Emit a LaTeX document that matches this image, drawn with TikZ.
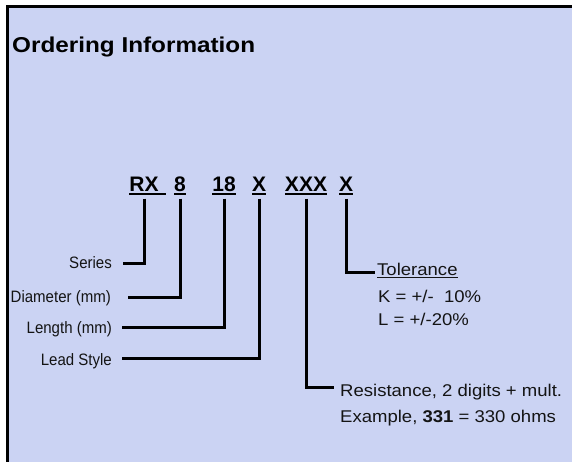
\documentclass[tikz,border=0pt]{standalone}
\usepackage{fontspec}
\setmainfont{Liberation Sans}
\newfontfamily\narrowfont[FakeStretch=0.91]{Liberation Sans}
\newfontfamily\widefont[FakeStretch=1.09]{Liberation Sans}
\newfontfamily\titlefont[FakeStretch=1.13]{Liberation Sans}
\usetikzlibrary{calc}
\definecolor{panel}{RGB}{203,211,243}
\definecolor{ink}{RGB}{20,20,20}
\newcommand\codeul[2][0pt]{\setbox0\hbox{#2}\rlap{\rule[-3.5pt]{\dimexpr\wd0+#1\relax}{2pt}}\box0}
\newcommand\thinul[1]{\setbox0\hbox{#1}\rlap{\rule[-2.5pt]{\wd0}{1pt}}\box0}
\tikzset{
  code/.style={anchor=base, inner xsep=0pt, inner ysep=3pt, font=\fontsize{21}{24}\selectfont\bfseries},
  lbl/.style={inner sep=0pt, font=\narrowfont\fontsize{16.5}{19}\selectfont, text=ink},
  rlbl/.style={inner sep=0pt, font=\widefont\fontsize{17}{20}\selectfont, text=ink},
  conn/.style={line width=3pt, black},
}
\begin{document}
\begin{tikzpicture}[x=1pt,y=-1pt]
\useasboundingbox (0,0) rectangle (572,462);
\fill[white] (0,0) rectangle (572,462);
\fill[black] (6,5) rectangle (572,462);
\fill[panel] (9,8) rectangle (572,462);

\node[anchor=base west, inner sep=0pt, font=\titlefont\fontsize{21.5}{25}\selectfont\bfseries] (title) at (12,53) {Ordering Information};

\node[code] (rx) at (144,192) {\codeul[7pt]{RX}};
\node[code] (d8) at (180,192) {\codeul{8}};
\node[code] (l18) at (224,192) {\codeul{18}};
\node[code] (lx) at (259,192) {\codeul{X}};
\node[code] (rxxx) at (306,192) {\codeul{XXX}};
\node[code] (tx) at (346,192) {\codeul{X}};

\node[lbl, anchor=base east] (series) at (112,268.5) {Series};
\node[lbl, anchor=base east] (diam) at (111,302) {Diameter (mm)};
\node[lbl, anchor=base east] (len) at (112,333) {Length (mm)};
\node[lbl, anchor=base east] (lead) at (112,365) {Lead Style};

\node[rlbl, anchor=base west] (tol) at (377,275) {\thinul{Tolerance}};
\node[rlbl, anchor=base west] (tolk) at (378,302) {K = +/-\ \ 10\%};
\node[rlbl, anchor=base west] (toll) at (378,325) {L = +/-20\%};
\node[rlbl, anchor=base west] (res) at (340,396) {Resistance, 2 digits + mult.};
\node[rlbl, anchor=base west] (resx) at (340,422) {Example, \textbf{331} = 330 ohms};

\coordinate (c1) at (123,263);
\coordinate (c2) at (128,297);
\coordinate (c3) at (122,327);
\coordinate (c4) at (122,358);
\coordinate (c5) at (334,387);
\coordinate (c6) at (375,272);

\draw[conn] (rx.south) |- (c1);
\draw[conn] (d8.south) |- (c2);
\draw[conn] (l18.south) |- (c3);
\draw[conn] (lx.south) |- (c4);
\draw[conn] (rxxx.south) |- (c5);
\draw[conn] (tx.south) |- (c6);
\end{tikzpicture}
\end{document}
